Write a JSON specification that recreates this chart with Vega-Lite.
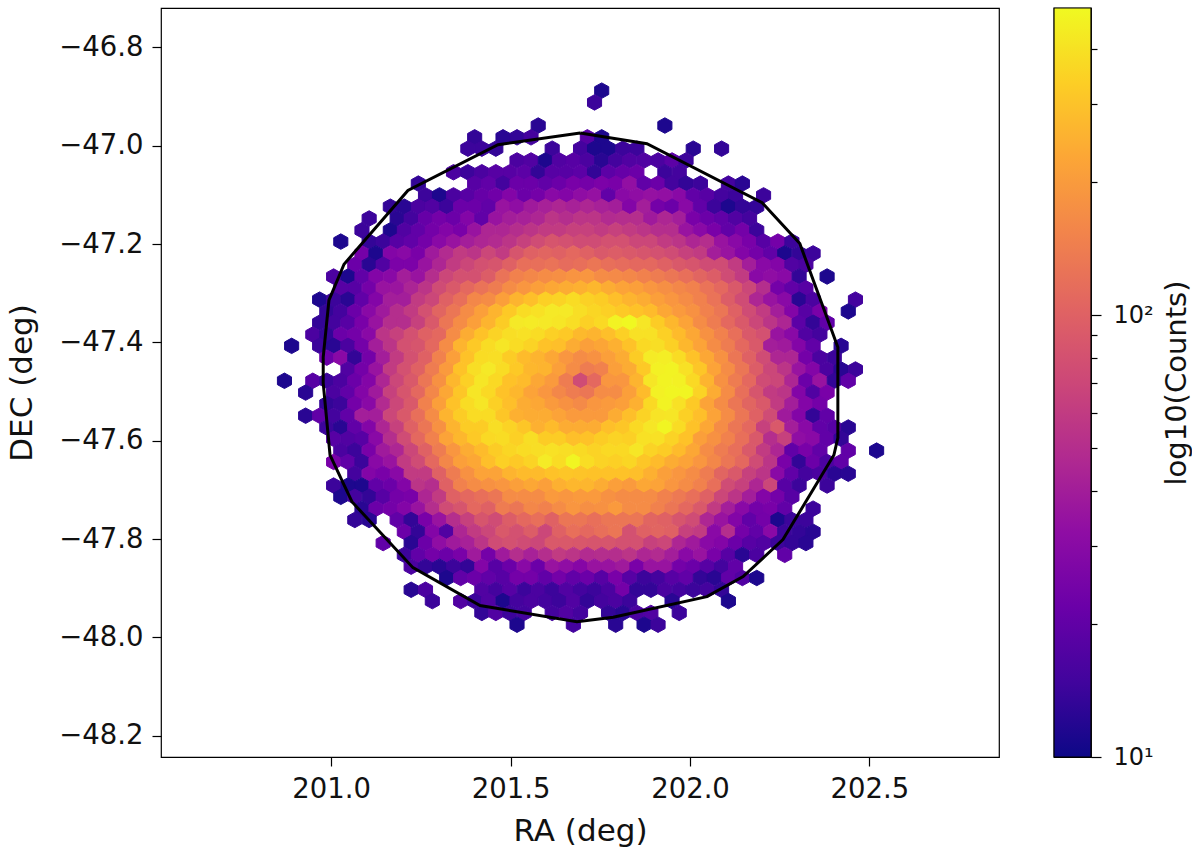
{"$schema":"https://vega.github.io/schema/vega-lite/v6.json","autosize":{"type":"pad"},"padding":{"left":6,"top":6,"right":0,"bottom":0},"background":"white","config":{"view":{"stroke":"black","strokeWidth":1.2},"font":"DejaVu Sans","axis":{"grid":false,"domain":false,"tickColor":"black","labelColor":"#111","titleColor":"#111","titleFontWeight":"normal","tickWidth":1.2}},"spacing":52,"hconcat":[{"width":838,"height":749,"layer":[{"data":{"values":[
{"ra":201.754,"dec":-46.888,"n":11},
{"ra":201.734,"dec":-46.912,"n":14},
{"ra":201.577,"dec":-46.959,"n":12},{"ra":201.930,"dec":-46.959,"n":11},
{"ra":201.400,"dec":-46.983,"n":13},{"ra":201.479,"dec":-46.983,"n":12},{"ra":201.518,"dec":-46.983,"n":13},{"ra":201.557,"dec":-46.983,"n":15},{"ra":201.714,"dec":-46.983,"n":18},{"ra":201.754,"dec":-46.983,"n":11},
{"ra":201.381,"dec":-47.006,"n":14},{"ra":201.420,"dec":-47.006,"n":14},{"ra":201.459,"dec":-47.006,"n":13},{"ra":201.616,"dec":-47.006,"n":14},{"ra":201.695,"dec":-47.006,"n":15},{"ra":201.734,"dec":-47.006,"n":11},{"ra":201.773,"dec":-47.006,"n":11},{"ra":201.813,"dec":-47.006,"n":14},{"ra":201.852,"dec":-47.006,"n":14},{"ra":202.009,"dec":-47.006,"n":12},{"ra":202.088,"dec":-47.006,"n":13},
{"ra":201.518,"dec":-47.030,"n":16},{"ra":201.557,"dec":-47.030,"n":17},{"ra":201.597,"dec":-47.030,"n":11},{"ra":201.636,"dec":-47.030,"n":17},{"ra":201.675,"dec":-47.030,"n":18},{"ra":201.714,"dec":-47.030,"n":16},{"ra":201.754,"dec":-47.030,"n":12},{"ra":201.793,"dec":-47.030,"n":15},{"ra":201.832,"dec":-47.030,"n":17},{"ra":201.872,"dec":-47.030,"n":17},{"ra":201.911,"dec":-47.030,"n":16},{"ra":201.950,"dec":-47.030,"n":19},{"ra":201.989,"dec":-47.030,"n":14},
{"ra":201.341,"dec":-47.054,"n":16},{"ra":201.381,"dec":-47.054,"n":14},{"ra":201.420,"dec":-47.054,"n":16},{"ra":201.459,"dec":-47.054,"n":18},{"ra":201.498,"dec":-47.054,"n":18},{"ra":201.538,"dec":-47.054,"n":19},{"ra":201.577,"dec":-47.054,"n":13},{"ra":201.616,"dec":-47.054,"n":18},{"ra":201.655,"dec":-47.054,"n":18},{"ra":201.695,"dec":-47.054,"n":19},{"ra":201.734,"dec":-47.054,"n":13},{"ra":201.773,"dec":-47.054,"n":19},{"ra":201.813,"dec":-47.054,"n":21},{"ra":201.852,"dec":-47.054,"n":22},{"ra":201.930,"dec":-47.054,"n":14},{"ra":201.970,"dec":-47.054,"n":15},
{"ra":201.243,"dec":-47.077,"n":13},{"ra":201.400,"dec":-47.077,"n":18},{"ra":201.439,"dec":-47.077,"n":20},{"ra":201.479,"dec":-47.077,"n":15},{"ra":201.518,"dec":-47.077,"n":22},{"ra":201.557,"dec":-47.077,"n":22},{"ra":201.597,"dec":-47.077,"n":20},{"ra":201.636,"dec":-47.077,"n":22},{"ra":201.675,"dec":-47.077,"n":25},{"ra":201.714,"dec":-47.077,"n":24},{"ra":201.754,"dec":-47.077,"n":26},{"ra":201.793,"dec":-47.077,"n":25},{"ra":201.832,"dec":-47.077,"n":33},{"ra":201.872,"dec":-47.077,"n":20},{"ra":201.911,"dec":-47.077,"n":22},{"ra":201.950,"dec":-47.077,"n":15},{"ra":201.989,"dec":-47.077,"n":13},{"ra":202.029,"dec":-47.077,"n":14},{"ra":202.107,"dec":-47.077,"n":15},{"ra":202.146,"dec":-47.077,"n":12},
{"ra":201.263,"dec":-47.101,"n":14},{"ra":201.302,"dec":-47.101,"n":11},{"ra":201.341,"dec":-47.101,"n":16},{"ra":201.381,"dec":-47.101,"n":18},{"ra":201.420,"dec":-47.101,"n":21},{"ra":201.459,"dec":-47.101,"n":23},{"ra":201.498,"dec":-47.101,"n":28},{"ra":201.538,"dec":-47.101,"n":22},{"ra":201.577,"dec":-47.101,"n":24},{"ra":201.616,"dec":-47.101,"n":30},{"ra":201.655,"dec":-47.101,"n":28},{"ra":201.695,"dec":-47.101,"n":32},{"ra":201.734,"dec":-47.101,"n":34},{"ra":201.773,"dec":-47.101,"n":20},{"ra":201.813,"dec":-47.101,"n":30},{"ra":201.852,"dec":-47.101,"n":32},{"ra":201.891,"dec":-47.101,"n":34},{"ra":201.930,"dec":-47.101,"n":33},{"ra":201.970,"dec":-47.101,"n":30},{"ra":202.009,"dec":-47.101,"n":20},{"ra":202.048,"dec":-47.101,"n":18},{"ra":202.088,"dec":-47.101,"n":15},{"ra":202.127,"dec":-47.101,"n":14},{"ra":202.205,"dec":-47.101,"n":14},
{"ra":201.165,"dec":-47.124,"n":13},{"ra":201.204,"dec":-47.124,"n":12},{"ra":201.243,"dec":-47.124,"n":16},{"ra":201.282,"dec":-47.124,"n":17},{"ra":201.322,"dec":-47.124,"n":14},{"ra":201.361,"dec":-47.124,"n":22},{"ra":201.400,"dec":-47.124,"n":22},{"ra":201.439,"dec":-47.124,"n":20},{"ra":201.479,"dec":-47.124,"n":35},{"ra":201.518,"dec":-47.124,"n":32},{"ra":201.557,"dec":-47.124,"n":38},{"ra":201.597,"dec":-47.124,"n":42},{"ra":201.636,"dec":-47.124,"n":45},{"ra":201.675,"dec":-47.124,"n":42},{"ra":201.714,"dec":-47.124,"n":45},{"ra":201.754,"dec":-47.124,"n":42},{"ra":201.793,"dec":-47.124,"n":40},{"ra":201.832,"dec":-47.124,"n":28},{"ra":201.872,"dec":-47.124,"n":40},{"ra":201.911,"dec":-47.124,"n":24},{"ra":201.950,"dec":-47.124,"n":22},{"ra":201.989,"dec":-47.124,"n":30},{"ra":202.029,"dec":-47.124,"n":20},{"ra":202.068,"dec":-47.124,"n":14},{"ra":202.107,"dec":-47.124,"n":11},{"ra":202.146,"dec":-47.124,"n":13},{"ra":202.186,"dec":-47.124,"n":13},
{"ra":201.106,"dec":-47.148,"n":14},{"ra":201.184,"dec":-47.148,"n":12},{"ra":201.223,"dec":-47.148,"n":15},{"ra":201.263,"dec":-47.148,"n":21},{"ra":201.302,"dec":-47.148,"n":24},{"ra":201.341,"dec":-47.148,"n":22},{"ra":201.381,"dec":-47.148,"n":28},{"ra":201.420,"dec":-47.148,"n":20},{"ra":201.459,"dec":-47.148,"n":35},{"ra":201.498,"dec":-47.148,"n":40},{"ra":201.538,"dec":-47.148,"n":42},{"ra":201.577,"dec":-47.148,"n":45},{"ra":201.616,"dec":-47.148,"n":55},{"ra":201.655,"dec":-47.148,"n":50},{"ra":201.695,"dec":-47.148,"n":55},{"ra":201.734,"dec":-47.148,"n":55},{"ra":201.773,"dec":-47.148,"n":48},{"ra":201.813,"dec":-47.148,"n":50},{"ra":201.852,"dec":-47.148,"n":50},{"ra":201.891,"dec":-47.148,"n":38},{"ra":201.930,"dec":-47.148,"n":45},{"ra":201.970,"dec":-47.148,"n":40},{"ra":202.009,"dec":-47.148,"n":25},{"ra":202.048,"dec":-47.148,"n":22},{"ra":202.088,"dec":-47.148,"n":20},{"ra":202.127,"dec":-47.148,"n":17},{"ra":202.166,"dec":-47.148,"n":15},
{"ra":201.086,"dec":-47.172,"n":14},{"ra":201.165,"dec":-47.172,"n":11},{"ra":201.204,"dec":-47.172,"n":17},{"ra":201.243,"dec":-47.172,"n":20},{"ra":201.282,"dec":-47.172,"n":24},{"ra":201.322,"dec":-47.172,"n":28},{"ra":201.361,"dec":-47.172,"n":25},{"ra":201.400,"dec":-47.172,"n":35},{"ra":201.439,"dec":-47.172,"n":45},{"ra":201.479,"dec":-47.172,"n":45},{"ra":201.518,"dec":-47.172,"n":50},{"ra":201.557,"dec":-47.172,"n":55},{"ra":201.597,"dec":-47.172,"n":60},{"ra":201.636,"dec":-47.172,"n":60},{"ra":201.675,"dec":-47.172,"n":65},{"ra":201.714,"dec":-47.172,"n":65},{"ra":201.754,"dec":-47.172,"n":60},{"ra":201.793,"dec":-47.172,"n":65},{"ra":201.832,"dec":-47.172,"n":60},{"ra":201.872,"dec":-47.172,"n":55},{"ra":201.911,"dec":-47.172,"n":50},{"ra":201.950,"dec":-47.172,"n":50},{"ra":201.989,"dec":-47.172,"n":35},{"ra":202.029,"dec":-47.172,"n":30},{"ra":202.068,"dec":-47.172,"n":25},{"ra":202.107,"dec":-47.172,"n":20},{"ra":202.146,"dec":-47.172,"n":24},{"ra":202.186,"dec":-47.172,"n":14},
{"ra":201.027,"dec":-47.195,"n":11},{"ra":201.106,"dec":-47.195,"n":13},{"ra":201.145,"dec":-47.195,"n":14},{"ra":201.184,"dec":-47.195,"n":18},{"ra":201.223,"dec":-47.195,"n":20},{"ra":201.263,"dec":-47.195,"n":24},{"ra":201.302,"dec":-47.195,"n":30},{"ra":201.341,"dec":-47.195,"n":35},{"ra":201.381,"dec":-47.195,"n":40},{"ra":201.420,"dec":-47.195,"n":45},{"ra":201.459,"dec":-47.195,"n":48},{"ra":201.498,"dec":-47.195,"n":55},{"ra":201.538,"dec":-47.195,"n":65},{"ra":201.577,"dec":-47.195,"n":75},{"ra":201.616,"dec":-47.195,"n":85},{"ra":201.655,"dec":-47.195,"n":80},{"ra":201.695,"dec":-47.195,"n":75},{"ra":201.734,"dec":-47.195,"n":75},{"ra":201.773,"dec":-47.195,"n":80},{"ra":201.813,"dec":-47.195,"n":80},{"ra":201.852,"dec":-47.195,"n":70},{"ra":201.891,"dec":-47.195,"n":70},{"ra":201.930,"dec":-47.195,"n":60},{"ra":201.970,"dec":-47.195,"n":55},{"ra":202.009,"dec":-47.195,"n":45},{"ra":202.048,"dec":-47.195,"n":50},{"ra":202.088,"dec":-47.195,"n":35},{"ra":202.127,"dec":-47.195,"n":30},{"ra":202.166,"dec":-47.195,"n":25},{"ra":202.205,"dec":-47.195,"n":18},{"ra":202.245,"dec":-47.195,"n":24},{"ra":202.284,"dec":-47.195,"n":14},
{"ra":201.086,"dec":-47.219,"n":24},{"ra":201.125,"dec":-47.219,"n":11},{"ra":201.165,"dec":-47.219,"n":28},{"ra":201.204,"dec":-47.219,"n":30},{"ra":201.243,"dec":-47.219,"n":25},{"ra":201.282,"dec":-47.219,"n":38},{"ra":201.322,"dec":-47.219,"n":48},{"ra":201.361,"dec":-47.219,"n":60},{"ra":201.400,"dec":-47.219,"n":55},{"ra":201.439,"dec":-47.219,"n":70},{"ra":201.479,"dec":-47.219,"n":60},{"ra":201.518,"dec":-47.219,"n":85},{"ra":201.557,"dec":-47.219,"n":100},{"ra":201.597,"dec":-47.219,"n":105},{"ra":201.636,"dec":-47.219,"n":100},{"ra":201.675,"dec":-47.219,"n":110},{"ra":201.714,"dec":-47.219,"n":100},{"ra":201.754,"dec":-47.219,"n":90},{"ra":201.793,"dec":-47.219,"n":95},{"ra":201.832,"dec":-47.219,"n":90},{"ra":201.872,"dec":-47.219,"n":85},{"ra":201.911,"dec":-47.219,"n":80},{"ra":201.950,"dec":-47.219,"n":75},{"ra":201.989,"dec":-47.219,"n":65},{"ra":202.029,"dec":-47.219,"n":60},{"ra":202.068,"dec":-47.219,"n":40},{"ra":202.107,"dec":-47.219,"n":35},{"ra":202.146,"dec":-47.219,"n":28},{"ra":202.186,"dec":-47.219,"n":24},{"ra":202.225,"dec":-47.219,"n":20},{"ra":202.264,"dec":-47.219,"n":11},{"ra":202.304,"dec":-47.219,"n":13},{"ra":202.343,"dec":-47.219,"n":14},
{"ra":201.066,"dec":-47.242,"n":22},{"ra":201.106,"dec":-47.242,"n":12},{"ra":201.145,"dec":-47.242,"n":17},{"ra":201.184,"dec":-47.242,"n":26},{"ra":201.223,"dec":-47.242,"n":26},{"ra":201.263,"dec":-47.242,"n":35},{"ra":201.302,"dec":-47.242,"n":45},{"ra":201.341,"dec":-47.242,"n":60},{"ra":201.381,"dec":-47.242,"n":70},{"ra":201.420,"dec":-47.242,"n":80},{"ra":201.459,"dec":-47.242,"n":85},{"ra":201.498,"dec":-47.242,"n":100},{"ra":201.538,"dec":-47.242,"n":120},{"ra":201.577,"dec":-47.242,"n":120},{"ra":201.616,"dec":-47.242,"n":125},{"ra":201.655,"dec":-47.242,"n":115},{"ra":201.695,"dec":-47.242,"n":120},{"ra":201.734,"dec":-47.242,"n":130},{"ra":201.773,"dec":-47.242,"n":120},{"ra":201.813,"dec":-47.242,"n":115},{"ra":201.852,"dec":-47.242,"n":110},{"ra":201.891,"dec":-47.242,"n":110},{"ra":201.930,"dec":-47.242,"n":100},{"ra":201.970,"dec":-47.242,"n":90},{"ra":202.009,"dec":-47.242,"n":85},{"ra":202.048,"dec":-47.242,"n":75},{"ra":202.088,"dec":-47.242,"n":75},{"ra":202.127,"dec":-47.242,"n":60},{"ra":202.166,"dec":-47.242,"n":40},{"ra":202.205,"dec":-47.242,"n":30},{"ra":202.245,"dec":-47.242,"n":28},{"ra":202.284,"dec":-47.242,"n":17},{"ra":202.323,"dec":-47.242,"n":16},
{"ra":201.007,"dec":-47.266,"n":16},{"ra":201.047,"dec":-47.266,"n":11},{"ra":201.086,"dec":-47.266,"n":20},{"ra":201.125,"dec":-47.266,"n":28},{"ra":201.165,"dec":-47.266,"n":30},{"ra":201.204,"dec":-47.266,"n":40},{"ra":201.243,"dec":-47.266,"n":35},{"ra":201.282,"dec":-47.266,"n":50},{"ra":201.322,"dec":-47.266,"n":70},{"ra":201.361,"dec":-47.266,"n":80},{"ra":201.400,"dec":-47.266,"n":80},{"ra":201.439,"dec":-47.266,"n":95},{"ra":201.479,"dec":-47.266,"n":125},{"ra":201.518,"dec":-47.266,"n":150},{"ra":201.557,"dec":-47.266,"n":160},{"ra":201.597,"dec":-47.266,"n":170},{"ra":201.636,"dec":-47.266,"n":175},{"ra":201.675,"dec":-47.266,"n":185},{"ra":201.714,"dec":-47.266,"n":190},{"ra":201.754,"dec":-47.266,"n":170},{"ra":201.793,"dec":-47.266,"n":165},{"ra":201.832,"dec":-47.266,"n":160},{"ra":201.872,"dec":-47.266,"n":150},{"ra":201.911,"dec":-47.266,"n":140},{"ra":201.950,"dec":-47.266,"n":130},{"ra":201.989,"dec":-47.266,"n":120},{"ra":202.029,"dec":-47.266,"n":105},{"ra":202.068,"dec":-47.266,"n":95},{"ra":202.107,"dec":-47.266,"n":75},{"ra":202.146,"dec":-47.266,"n":60},{"ra":202.186,"dec":-47.266,"n":30},{"ra":202.225,"dec":-47.266,"n":32},{"ra":202.264,"dec":-47.266,"n":30},{"ra":202.304,"dec":-47.266,"n":13},{"ra":202.382,"dec":-47.266,"n":11},
{"ra":201.027,"dec":-47.290,"n":18},{"ra":201.066,"dec":-47.290,"n":18},{"ra":201.106,"dec":-47.290,"n":24},{"ra":201.145,"dec":-47.290,"n":35},{"ra":201.184,"dec":-47.290,"n":36},{"ra":201.223,"dec":-47.290,"n":44},{"ra":201.263,"dec":-47.290,"n":55},{"ra":201.302,"dec":-47.290,"n":75},{"ra":201.341,"dec":-47.290,"n":90},{"ra":201.381,"dec":-47.290,"n":110},{"ra":201.420,"dec":-47.290,"n":125},{"ra":201.459,"dec":-47.290,"n":140},{"ra":201.498,"dec":-47.290,"n":170},{"ra":201.538,"dec":-47.290,"n":190},{"ra":201.577,"dec":-47.290,"n":210},{"ra":201.616,"dec":-47.290,"n":230},{"ra":201.655,"dec":-47.290,"n":240},{"ra":201.695,"dec":-47.290,"n":250},{"ra":201.734,"dec":-47.290,"n":270},{"ra":201.773,"dec":-47.290,"n":240},{"ra":201.813,"dec":-47.290,"n":220},{"ra":201.852,"dec":-47.290,"n":210},{"ra":201.891,"dec":-47.290,"n":190},{"ra":201.930,"dec":-47.290,"n":175},{"ra":201.970,"dec":-47.290,"n":160},{"ra":202.009,"dec":-47.290,"n":150},{"ra":202.048,"dec":-47.290,"n":125},{"ra":202.088,"dec":-47.290,"n":110},{"ra":202.127,"dec":-47.290,"n":90},{"ra":202.166,"dec":-47.290,"n":70},{"ra":202.205,"dec":-47.290,"n":50},{"ra":202.245,"dec":-47.290,"n":24},{"ra":202.284,"dec":-47.290,"n":20},{"ra":202.323,"dec":-47.290,"n":18},
{"ra":200.968,"dec":-47.313,"n":11},{"ra":201.007,"dec":-47.313,"n":14},{"ra":201.047,"dec":-47.313,"n":12},{"ra":201.086,"dec":-47.313,"n":20},{"ra":201.125,"dec":-47.313,"n":28},{"ra":201.165,"dec":-47.313,"n":40},{"ra":201.204,"dec":-47.313,"n":40},{"ra":201.243,"dec":-47.313,"n":60},{"ra":201.282,"dec":-47.313,"n":70},{"ra":201.322,"dec":-47.313,"n":100},{"ra":201.361,"dec":-47.313,"n":120},{"ra":201.400,"dec":-47.313,"n":160},{"ra":201.439,"dec":-47.313,"n":170},{"ra":201.479,"dec":-47.313,"n":210},{"ra":201.518,"dec":-47.313,"n":260},{"ra":201.557,"dec":-47.313,"n":290},{"ra":201.597,"dec":-47.313,"n":340},{"ra":201.636,"dec":-47.313,"n":350},{"ra":201.675,"dec":-47.313,"n":380},{"ra":201.714,"dec":-47.313,"n":345},{"ra":201.754,"dec":-47.313,"n":330},{"ra":201.793,"dec":-47.313,"n":290},{"ra":201.832,"dec":-47.313,"n":260},{"ra":201.872,"dec":-47.313,"n":240},{"ra":201.911,"dec":-47.313,"n":210},{"ra":201.950,"dec":-47.313,"n":190},{"ra":201.989,"dec":-47.313,"n":170},{"ra":202.029,"dec":-47.313,"n":150},{"ra":202.068,"dec":-47.313,"n":125},{"ra":202.107,"dec":-47.313,"n":95},{"ra":202.146,"dec":-47.313,"n":75},{"ra":202.186,"dec":-47.313,"n":45},{"ra":202.225,"dec":-47.313,"n":35},{"ra":202.264,"dec":-47.313,"n":30},{"ra":202.304,"dec":-47.313,"n":12},{"ra":202.343,"dec":-47.313,"n":16},{"ra":202.461,"dec":-47.313,"n":15},
{"ra":200.988,"dec":-47.337,"n":13},{"ra":201.027,"dec":-47.337,"n":15},{"ra":201.066,"dec":-47.337,"n":22},{"ra":201.106,"dec":-47.337,"n":30},{"ra":201.145,"dec":-47.337,"n":38},{"ra":201.184,"dec":-47.337,"n":50},{"ra":201.223,"dec":-47.337,"n":60},{"ra":201.263,"dec":-47.337,"n":80},{"ra":201.302,"dec":-47.337,"n":105},{"ra":201.341,"dec":-47.337,"n":130},{"ra":201.381,"dec":-47.337,"n":170},{"ra":201.420,"dec":-47.337,"n":210},{"ra":201.459,"dec":-47.337,"n":260},{"ra":201.498,"dec":-47.337,"n":320},{"ra":201.538,"dec":-47.337,"n":380},{"ra":201.577,"dec":-47.337,"n":400},{"ra":201.616,"dec":-47.337,"n":430},{"ra":201.655,"dec":-47.337,"n":430},{"ra":201.695,"dec":-47.337,"n":390},{"ra":201.734,"dec":-47.337,"n":360},{"ra":201.773,"dec":-47.337,"n":340},{"ra":201.813,"dec":-47.337,"n":320},{"ra":201.852,"dec":-47.337,"n":300},{"ra":201.891,"dec":-47.337,"n":280},{"ra":201.930,"dec":-47.337,"n":230},{"ra":201.970,"dec":-47.337,"n":200},{"ra":202.009,"dec":-47.337,"n":180},{"ra":202.048,"dec":-47.337,"n":150},{"ra":202.088,"dec":-47.337,"n":130},{"ra":202.127,"dec":-47.337,"n":100},{"ra":202.166,"dec":-47.337,"n":75},{"ra":202.205,"dec":-47.337,"n":60},{"ra":202.245,"dec":-47.337,"n":40},{"ra":202.284,"dec":-47.337,"n":28},{"ra":202.323,"dec":-47.337,"n":18},{"ra":202.362,"dec":-47.337,"n":25},{"ra":202.441,"dec":-47.337,"n":11},
{"ra":200.968,"dec":-47.360,"n":13},{"ra":201.007,"dec":-47.360,"n":15},{"ra":201.047,"dec":-47.360,"n":18},{"ra":201.086,"dec":-47.360,"n":25},{"ra":201.125,"dec":-47.360,"n":35},{"ra":201.165,"dec":-47.360,"n":50},{"ra":201.204,"dec":-47.360,"n":50},{"ra":201.243,"dec":-47.360,"n":65},{"ra":201.282,"dec":-47.360,"n":90},{"ra":201.322,"dec":-47.360,"n":130},{"ra":201.361,"dec":-47.360,"n":170},{"ra":201.400,"dec":-47.360,"n":210},{"ra":201.439,"dec":-47.360,"n":260},{"ra":201.479,"dec":-47.360,"n":330},{"ra":201.518,"dec":-47.360,"n":430},{"ra":201.557,"dec":-47.360,"n":440},{"ra":201.597,"dec":-47.360,"n":430},{"ra":201.636,"dec":-47.360,"n":420},{"ra":201.675,"dec":-47.360,"n":390},{"ra":201.714,"dec":-47.360,"n":340},{"ra":201.754,"dec":-47.360,"n":370},{"ra":201.793,"dec":-47.360,"n":470},{"ra":201.832,"dec":-47.360,"n":490},{"ra":201.872,"dec":-47.360,"n":420},{"ra":201.911,"dec":-47.360,"n":330},{"ra":201.950,"dec":-47.360,"n":270},{"ra":201.989,"dec":-47.360,"n":220},{"ra":202.029,"dec":-47.360,"n":170},{"ra":202.068,"dec":-47.360,"n":140},{"ra":202.107,"dec":-47.360,"n":110},{"ra":202.146,"dec":-47.360,"n":90},{"ra":202.186,"dec":-47.360,"n":70},{"ra":202.225,"dec":-47.360,"n":55},{"ra":202.264,"dec":-47.360,"n":45},{"ra":202.304,"dec":-47.360,"n":19},{"ra":202.343,"dec":-47.360,"n":13},{"ra":202.382,"dec":-47.360,"n":20},
{"ra":200.949,"dec":-47.384,"n":16},{"ra":200.988,"dec":-47.384,"n":13},{"ra":201.027,"dec":-47.384,"n":22},{"ra":201.066,"dec":-47.384,"n":24},{"ra":201.106,"dec":-47.384,"n":30},{"ra":201.145,"dec":-47.384,"n":55},{"ra":201.184,"dec":-47.384,"n":65},{"ra":201.223,"dec":-47.384,"n":80},{"ra":201.263,"dec":-47.384,"n":100},{"ra":201.302,"dec":-47.384,"n":110},{"ra":201.341,"dec":-47.384,"n":170},{"ra":201.381,"dec":-47.384,"n":240},{"ra":201.420,"dec":-47.384,"n":300},{"ra":201.459,"dec":-47.384,"n":350},{"ra":201.498,"dec":-47.384,"n":390},{"ra":201.538,"dec":-47.384,"n":400},{"ra":201.577,"dec":-47.384,"n":380},{"ra":201.616,"dec":-47.384,"n":340},{"ra":201.655,"dec":-47.384,"n":320},{"ra":201.695,"dec":-47.384,"n":275},{"ra":201.734,"dec":-47.384,"n":260},{"ra":201.773,"dec":-47.384,"n":290},{"ra":201.813,"dec":-47.384,"n":340},{"ra":201.852,"dec":-47.384,"n":400},{"ra":201.891,"dec":-47.384,"n":400},{"ra":201.930,"dec":-47.384,"n":340},{"ra":201.970,"dec":-47.384,"n":280},{"ra":202.009,"dec":-47.384,"n":230},{"ra":202.048,"dec":-47.384,"n":180},{"ra":202.088,"dec":-47.384,"n":150},{"ra":202.127,"dec":-47.384,"n":120},{"ra":202.166,"dec":-47.384,"n":90},{"ra":202.205,"dec":-47.384,"n":80},{"ra":202.245,"dec":-47.384,"n":35},{"ra":202.284,"dec":-47.384,"n":30},{"ra":202.323,"dec":-47.384,"n":17},{"ra":202.362,"dec":-47.384,"n":15},
{"ra":200.890,"dec":-47.407,"n":11},{"ra":200.968,"dec":-47.407,"n":14},{"ra":201.007,"dec":-47.407,"n":12},{"ra":201.047,"dec":-47.407,"n":16},{"ra":201.086,"dec":-47.407,"n":24},{"ra":201.125,"dec":-47.407,"n":40},{"ra":201.165,"dec":-47.407,"n":55},{"ra":201.204,"dec":-47.407,"n":80},{"ra":201.243,"dec":-47.407,"n":85},{"ra":201.282,"dec":-47.407,"n":110},{"ra":201.322,"dec":-47.407,"n":170},{"ra":201.361,"dec":-47.407,"n":260},{"ra":201.400,"dec":-47.407,"n":320},{"ra":201.439,"dec":-47.407,"n":380},{"ra":201.479,"dec":-47.407,"n":420},{"ra":201.518,"dec":-47.407,"n":380},{"ra":201.557,"dec":-47.407,"n":350},{"ra":201.597,"dec":-47.407,"n":300},{"ra":201.636,"dec":-47.407,"n":290},{"ra":201.675,"dec":-47.407,"n":240},{"ra":201.714,"dec":-47.407,"n":210},{"ra":201.754,"dec":-47.407,"n":225},{"ra":201.793,"dec":-47.407,"n":250},{"ra":201.832,"dec":-47.407,"n":300},{"ra":201.872,"dec":-47.407,"n":370},{"ra":201.911,"dec":-47.407,"n":390},{"ra":201.950,"dec":-47.407,"n":340},{"ra":201.989,"dec":-47.407,"n":270},{"ra":202.029,"dec":-47.407,"n":220},{"ra":202.068,"dec":-47.407,"n":170},{"ra":202.107,"dec":-47.407,"n":140},{"ra":202.146,"dec":-47.407,"n":110},{"ra":202.186,"dec":-47.407,"n":90},{"ra":202.225,"dec":-47.407,"n":40},{"ra":202.264,"dec":-47.407,"n":38},{"ra":202.304,"dec":-47.407,"n":28},{"ra":202.343,"dec":-47.407,"n":20},{"ra":202.421,"dec":-47.407,"n":12},
{"ra":200.988,"dec":-47.431,"n":22},{"ra":201.027,"dec":-47.431,"n":30},{"ra":201.066,"dec":-47.431,"n":13},{"ra":201.106,"dec":-47.431,"n":24},{"ra":201.145,"dec":-47.431,"n":40},{"ra":201.184,"dec":-47.431,"n":60},{"ra":201.223,"dec":-47.431,"n":80},{"ra":201.263,"dec":-47.431,"n":100},{"ra":201.302,"dec":-47.431,"n":150},{"ra":201.341,"dec":-47.431,"n":210},{"ra":201.381,"dec":-47.431,"n":300},{"ra":201.420,"dec":-47.431,"n":380},{"ra":201.459,"dec":-47.431,"n":390},{"ra":201.498,"dec":-47.431,"n":330},{"ra":201.538,"dec":-47.431,"n":280},{"ra":201.577,"dec":-47.431,"n":260},{"ra":201.616,"dec":-47.431,"n":230},{"ra":201.655,"dec":-47.431,"n":190},{"ra":201.695,"dec":-47.431,"n":170},{"ra":201.734,"dec":-47.431,"n":180},{"ra":201.773,"dec":-47.431,"n":210},{"ra":201.813,"dec":-47.431,"n":240},{"ra":201.852,"dec":-47.431,"n":330},{"ra":201.891,"dec":-47.431,"n":440},{"ra":201.930,"dec":-47.431,"n":450},{"ra":201.970,"dec":-47.431,"n":380},{"ra":202.009,"dec":-47.431,"n":300},{"ra":202.048,"dec":-47.431,"n":230},{"ra":202.088,"dec":-47.431,"n":180},{"ra":202.127,"dec":-47.431,"n":130},{"ra":202.166,"dec":-47.431,"n":100},{"ra":202.205,"dec":-47.431,"n":75},{"ra":202.245,"dec":-47.431,"n":45},{"ra":202.284,"dec":-47.431,"n":45},{"ra":202.323,"dec":-47.431,"n":24},{"ra":202.362,"dec":-47.431,"n":16},{"ra":202.402,"dec":-47.431,"n":14},
{"ra":201.047,"dec":-47.455,"n":17},{"ra":201.086,"dec":-47.455,"n":24},{"ra":201.125,"dec":-47.455,"n":35},{"ra":201.165,"dec":-47.455,"n":60},{"ra":201.204,"dec":-47.455,"n":80},{"ra":201.243,"dec":-47.455,"n":100},{"ra":201.282,"dec":-47.455,"n":140},{"ra":201.322,"dec":-47.455,"n":200},{"ra":201.361,"dec":-47.455,"n":300},{"ra":201.400,"dec":-47.455,"n":390},{"ra":201.439,"dec":-47.455,"n":430},{"ra":201.479,"dec":-47.455,"n":380},{"ra":201.518,"dec":-47.455,"n":320},{"ra":201.557,"dec":-47.455,"n":270},{"ra":201.597,"dec":-47.455,"n":260},{"ra":201.636,"dec":-47.455,"n":210},{"ra":201.675,"dec":-47.455,"n":170},{"ra":201.714,"dec":-47.455,"n":140},{"ra":201.754,"dec":-47.455,"n":150},{"ra":201.793,"dec":-47.455,"n":210},{"ra":201.832,"dec":-47.455,"n":240},{"ra":201.872,"dec":-47.455,"n":320},{"ra":201.911,"dec":-47.455,"n":460},{"ra":201.950,"dec":-47.455,"n":470},{"ra":201.989,"dec":-47.455,"n":400},{"ra":202.029,"dec":-47.455,"n":310},{"ra":202.068,"dec":-47.455,"n":220},{"ra":202.107,"dec":-47.455,"n":170},{"ra":202.146,"dec":-47.455,"n":130},{"ra":202.186,"dec":-47.455,"n":95},{"ra":202.225,"dec":-47.455,"n":70},{"ra":202.264,"dec":-47.455,"n":55},{"ra":202.304,"dec":-47.455,"n":35},{"ra":202.343,"dec":-47.455,"n":28},{"ra":202.382,"dec":-47.455,"n":16},{"ra":202.421,"dec":-47.455,"n":12},{"ra":202.461,"dec":-47.455,"n":14},
{"ra":200.870,"dec":-47.478,"n":11},{"ra":200.949,"dec":-47.478,"n":18},{"ra":200.988,"dec":-47.478,"n":14},{"ra":201.027,"dec":-47.478,"n":16},{"ra":201.066,"dec":-47.478,"n":22},{"ra":201.106,"dec":-47.478,"n":28},{"ra":201.145,"dec":-47.478,"n":45},{"ra":201.184,"dec":-47.478,"n":70},{"ra":201.223,"dec":-47.478,"n":90},{"ra":201.263,"dec":-47.478,"n":130},{"ra":201.302,"dec":-47.478,"n":180},{"ra":201.341,"dec":-47.478,"n":270},{"ra":201.381,"dec":-47.478,"n":340},{"ra":201.420,"dec":-47.478,"n":420},{"ra":201.459,"dec":-47.478,"n":370},{"ra":201.498,"dec":-47.478,"n":300},{"ra":201.538,"dec":-47.478,"n":280},{"ra":201.577,"dec":-47.478,"n":230},{"ra":201.616,"dec":-47.478,"n":200},{"ra":201.655,"dec":-47.478,"n":140},{"ra":201.695,"dec":-47.478,"n":75},{"ra":201.734,"dec":-47.478,"n":110},{"ra":201.773,"dec":-47.478,"n":190},{"ra":201.813,"dec":-47.478,"n":190},{"ra":201.852,"dec":-47.478,"n":260},{"ra":201.891,"dec":-47.478,"n":420},{"ra":201.930,"dec":-47.478,"n":470},{"ra":201.970,"dec":-47.478,"n":460},{"ra":202.009,"dec":-47.478,"n":370},{"ra":202.048,"dec":-47.478,"n":260},{"ra":202.088,"dec":-47.478,"n":180},{"ra":202.127,"dec":-47.478,"n":140},{"ra":202.166,"dec":-47.478,"n":110},{"ra":202.205,"dec":-47.478,"n":75},{"ra":202.245,"dec":-47.478,"n":70},{"ra":202.284,"dec":-47.478,"n":45},{"ra":202.323,"dec":-47.478,"n":22},{"ra":202.362,"dec":-47.478,"n":35},{"ra":202.402,"dec":-47.478,"n":13},{"ra":202.441,"dec":-47.478,"n":20},
{"ra":200.929,"dec":-47.502,"n":12},{"ra":201.007,"dec":-47.502,"n":16},{"ra":201.047,"dec":-47.502,"n":20},{"ra":201.086,"dec":-47.502,"n":28},{"ra":201.125,"dec":-47.502,"n":38},{"ra":201.165,"dec":-47.502,"n":65},{"ra":201.204,"dec":-47.502,"n":85},{"ra":201.243,"dec":-47.502,"n":110},{"ra":201.282,"dec":-47.502,"n":160},{"ra":201.322,"dec":-47.502,"n":230},{"ra":201.361,"dec":-47.502,"n":310},{"ra":201.400,"dec":-47.502,"n":420},{"ra":201.439,"dec":-47.502,"n":370},{"ra":201.479,"dec":-47.502,"n":300},{"ra":201.518,"dec":-47.502,"n":270},{"ra":201.557,"dec":-47.502,"n":220},{"ra":201.597,"dec":-47.502,"n":190},{"ra":201.636,"dec":-47.502,"n":160},{"ra":201.675,"dec":-47.502,"n":140},{"ra":201.714,"dec":-47.502,"n":130},{"ra":201.754,"dec":-47.502,"n":170},{"ra":201.793,"dec":-47.502,"n":170},{"ra":201.832,"dec":-47.502,"n":210},{"ra":201.872,"dec":-47.502,"n":280},{"ra":201.911,"dec":-47.502,"n":460},{"ra":201.950,"dec":-47.502,"n":480},{"ra":201.989,"dec":-47.502,"n":480},{"ra":202.029,"dec":-47.502,"n":350},{"ra":202.068,"dec":-47.502,"n":240},{"ra":202.107,"dec":-47.502,"n":170},{"ra":202.146,"dec":-47.502,"n":120},{"ra":202.186,"dec":-47.502,"n":85},{"ra":202.225,"dec":-47.502,"n":60},{"ra":202.264,"dec":-47.502,"n":55},{"ra":202.304,"dec":-47.502,"n":28},{"ra":202.343,"dec":-47.502,"n":17},{"ra":202.382,"dec":-47.502,"n":25},
{"ra":200.988,"dec":-47.525,"n":13},{"ra":201.027,"dec":-47.525,"n":14},{"ra":201.066,"dec":-47.525,"n":24},{"ra":201.106,"dec":-47.525,"n":30},{"ra":201.145,"dec":-47.525,"n":48},{"ra":201.184,"dec":-47.525,"n":70},{"ra":201.223,"dec":-47.525,"n":90},{"ra":201.263,"dec":-47.525,"n":150},{"ra":201.302,"dec":-47.525,"n":210},{"ra":201.341,"dec":-47.525,"n":300},{"ra":201.381,"dec":-47.525,"n":380},{"ra":201.420,"dec":-47.525,"n":420},{"ra":201.459,"dec":-47.525,"n":340},{"ra":201.498,"dec":-47.525,"n":290},{"ra":201.538,"dec":-47.525,"n":240},{"ra":201.577,"dec":-47.525,"n":230},{"ra":201.616,"dec":-47.525,"n":200},{"ra":201.655,"dec":-47.525,"n":180},{"ra":201.695,"dec":-47.525,"n":165},{"ra":201.734,"dec":-47.525,"n":190},{"ra":201.773,"dec":-47.525,"n":200},{"ra":201.813,"dec":-47.525,"n":210},{"ra":201.852,"dec":-47.525,"n":250},{"ra":201.891,"dec":-47.525,"n":370},{"ra":201.930,"dec":-47.525,"n":470},{"ra":201.970,"dec":-47.525,"n":400},{"ra":202.009,"dec":-47.525,"n":320},{"ra":202.048,"dec":-47.525,"n":220},{"ra":202.088,"dec":-47.525,"n":170},{"ra":202.127,"dec":-47.525,"n":130},{"ra":202.166,"dec":-47.525,"n":105},{"ra":202.205,"dec":-47.525,"n":90},{"ra":202.245,"dec":-47.525,"n":60},{"ra":202.284,"dec":-47.525,"n":40},{"ra":202.323,"dec":-47.525,"n":28},{"ra":202.362,"dec":-47.525,"n":24},
{"ra":200.929,"dec":-47.549,"n":12},{"ra":200.968,"dec":-47.549,"n":20},{"ra":201.007,"dec":-47.549,"n":15},{"ra":201.047,"dec":-47.549,"n":20},{"ra":201.086,"dec":-47.549,"n":40},{"ra":201.125,"dec":-47.549,"n":40},{"ra":201.165,"dec":-47.549,"n":70},{"ra":201.204,"dec":-47.549,"n":90},{"ra":201.243,"dec":-47.549,"n":120},{"ra":201.282,"dec":-47.549,"n":170},{"ra":201.322,"dec":-47.549,"n":260},{"ra":201.361,"dec":-47.549,"n":330},{"ra":201.400,"dec":-47.549,"n":380},{"ra":201.439,"dec":-47.549,"n":380},{"ra":201.479,"dec":-47.549,"n":310},{"ra":201.518,"dec":-47.549,"n":250},{"ra":201.557,"dec":-47.549,"n":240},{"ra":201.597,"dec":-47.549,"n":240},{"ra":201.636,"dec":-47.549,"n":220},{"ra":201.675,"dec":-47.549,"n":200},{"ra":201.714,"dec":-47.549,"n":200},{"ra":201.754,"dec":-47.549,"n":200},{"ra":201.793,"dec":-47.549,"n":240},{"ra":201.832,"dec":-47.549,"n":290},{"ra":201.872,"dec":-47.549,"n":350},{"ra":201.911,"dec":-47.549,"n":410},{"ra":201.950,"dec":-47.549,"n":420},{"ra":201.989,"dec":-47.549,"n":340},{"ra":202.029,"dec":-47.549,"n":290},{"ra":202.068,"dec":-47.549,"n":220},{"ra":202.107,"dec":-47.549,"n":170},{"ra":202.146,"dec":-47.549,"n":130},{"ra":202.186,"dec":-47.549,"n":100},{"ra":202.225,"dec":-47.549,"n":75},{"ra":202.264,"dec":-47.549,"n":38},{"ra":202.304,"dec":-47.549,"n":28},{"ra":202.343,"dec":-47.549,"n":13},{"ra":202.382,"dec":-47.549,"n":20},
{"ra":200.988,"dec":-47.573,"n":14},{"ra":201.027,"dec":-47.573,"n":12},{"ra":201.066,"dec":-47.573,"n":20},{"ra":201.106,"dec":-47.573,"n":28},{"ra":201.145,"dec":-47.573,"n":45},{"ra":201.184,"dec":-47.573,"n":65},{"ra":201.223,"dec":-47.573,"n":100},{"ra":201.263,"dec":-47.573,"n":130},{"ra":201.302,"dec":-47.573,"n":180},{"ra":201.341,"dec":-47.573,"n":260},{"ra":201.381,"dec":-47.573,"n":330},{"ra":201.420,"dec":-47.573,"n":330},{"ra":201.459,"dec":-47.573,"n":390},{"ra":201.498,"dec":-47.573,"n":350},{"ra":201.538,"dec":-47.573,"n":310},{"ra":201.577,"dec":-47.573,"n":250},{"ra":201.616,"dec":-47.573,"n":280},{"ra":201.655,"dec":-47.573,"n":240},{"ra":201.695,"dec":-47.573,"n":240},{"ra":201.734,"dec":-47.573,"n":240},{"ra":201.773,"dec":-47.573,"n":290},{"ra":201.813,"dec":-47.573,"n":310},{"ra":201.852,"dec":-47.573,"n":370},{"ra":201.891,"dec":-47.573,"n":420},{"ra":201.930,"dec":-47.573,"n":480},{"ra":201.970,"dec":-47.573,"n":380},{"ra":202.009,"dec":-47.573,"n":300},{"ra":202.048,"dec":-47.573,"n":230},{"ra":202.088,"dec":-47.573,"n":170},{"ra":202.127,"dec":-47.573,"n":130},{"ra":202.166,"dec":-47.573,"n":110},{"ra":202.205,"dec":-47.573,"n":65},{"ra":202.245,"dec":-47.573,"n":90},{"ra":202.284,"dec":-47.573,"n":40},{"ra":202.323,"dec":-47.573,"n":30},{"ra":202.362,"dec":-47.573,"n":20},{"ra":202.402,"dec":-47.573,"n":18},{"ra":202.441,"dec":-47.573,"n":12},
{"ra":201.007,"dec":-47.596,"n":18},{"ra":201.047,"dec":-47.596,"n":17},{"ra":201.086,"dec":-47.596,"n":18},{"ra":201.125,"dec":-47.596,"n":30},{"ra":201.165,"dec":-47.596,"n":50},{"ra":201.204,"dec":-47.596,"n":75},{"ra":201.243,"dec":-47.596,"n":110},{"ra":201.282,"dec":-47.596,"n":150},{"ra":201.322,"dec":-47.596,"n":220},{"ra":201.361,"dec":-47.596,"n":270},{"ra":201.400,"dec":-47.596,"n":320},{"ra":201.439,"dec":-47.596,"n":370},{"ra":201.479,"dec":-47.596,"n":380},{"ra":201.518,"dec":-47.596,"n":340},{"ra":201.557,"dec":-47.596,"n":390},{"ra":201.597,"dec":-47.596,"n":330},{"ra":201.636,"dec":-47.596,"n":330},{"ra":201.675,"dec":-47.596,"n":290},{"ra":201.714,"dec":-47.596,"n":300},{"ra":201.754,"dec":-47.596,"n":330},{"ra":201.793,"dec":-47.596,"n":350},{"ra":201.832,"dec":-47.596,"n":340},{"ra":201.872,"dec":-47.596,"n":400},{"ra":201.911,"dec":-47.596,"n":400},{"ra":201.950,"dec":-47.596,"n":350},{"ra":201.989,"dec":-47.596,"n":300},{"ra":202.029,"dec":-47.596,"n":210},{"ra":202.068,"dec":-47.596,"n":180},{"ra":202.107,"dec":-47.596,"n":150},{"ra":202.146,"dec":-47.596,"n":120},{"ra":202.186,"dec":-47.596,"n":90},{"ra":202.225,"dec":-47.596,"n":50},{"ra":202.264,"dec":-47.596,"n":65},{"ra":202.304,"dec":-47.596,"n":32},{"ra":202.343,"dec":-47.596,"n":30},{"ra":202.382,"dec":-47.596,"n":20},{"ra":202.421,"dec":-47.596,"n":13},
{"ra":201.027,"dec":-47.620,"n":16},{"ra":201.066,"dec":-47.620,"n":14},{"ra":201.106,"dec":-47.620,"n":25},{"ra":201.145,"dec":-47.620,"n":38},{"ra":201.184,"dec":-47.620,"n":45},{"ra":201.223,"dec":-47.620,"n":70},{"ra":201.263,"dec":-47.620,"n":100},{"ra":201.302,"dec":-47.620,"n":140},{"ra":201.341,"dec":-47.620,"n":190},{"ra":201.381,"dec":-47.620,"n":240},{"ra":201.420,"dec":-47.620,"n":280},{"ra":201.459,"dec":-47.620,"n":330},{"ra":201.498,"dec":-47.620,"n":360},{"ra":201.538,"dec":-47.620,"n":380},{"ra":201.577,"dec":-47.620,"n":390},{"ra":201.616,"dec":-47.620,"n":400},{"ra":201.655,"dec":-47.620,"n":390},{"ra":201.695,"dec":-47.620,"n":375},{"ra":201.734,"dec":-47.620,"n":350},{"ra":201.773,"dec":-47.620,"n":370},{"ra":201.813,"dec":-47.620,"n":370},{"ra":201.852,"dec":-47.620,"n":420},{"ra":201.891,"dec":-47.620,"n":350},{"ra":201.930,"dec":-47.620,"n":330},{"ra":201.970,"dec":-47.620,"n":280},{"ra":202.009,"dec":-47.620,"n":230},{"ra":202.048,"dec":-47.620,"n":170},{"ra":202.088,"dec":-47.620,"n":140},{"ra":202.127,"dec":-47.620,"n":120},{"ra":202.166,"dec":-47.620,"n":90},{"ra":202.205,"dec":-47.620,"n":60},{"ra":202.245,"dec":-47.620,"n":45},{"ra":202.284,"dec":-47.620,"n":20},{"ra":202.323,"dec":-47.620,"n":25},{"ra":202.362,"dec":-47.620,"n":20},{"ra":202.441,"dec":-47.620,"n":20},{"ra":202.520,"dec":-47.620,"n":11},
{"ra":201.007,"dec":-47.643,"n":25},{"ra":201.047,"dec":-47.643,"n":20},{"ra":201.086,"dec":-47.643,"n":14},{"ra":201.125,"dec":-47.643,"n":30},{"ra":201.165,"dec":-47.643,"n":35},{"ra":201.204,"dec":-47.643,"n":60},{"ra":201.243,"dec":-47.643,"n":75},{"ra":201.282,"dec":-47.643,"n":110},{"ra":201.322,"dec":-47.643,"n":160},{"ra":201.361,"dec":-47.643,"n":210},{"ra":201.400,"dec":-47.643,"n":230},{"ra":201.439,"dec":-47.643,"n":290},{"ra":201.479,"dec":-47.643,"n":340},{"ra":201.518,"dec":-47.643,"n":320},{"ra":201.557,"dec":-47.643,"n":350},{"ra":201.597,"dec":-47.643,"n":440},{"ra":201.636,"dec":-47.643,"n":380},{"ra":201.675,"dec":-47.643,"n":480},{"ra":201.714,"dec":-47.643,"n":385},{"ra":201.754,"dec":-47.643,"n":350},{"ra":201.793,"dec":-47.643,"n":340},{"ra":201.832,"dec":-47.643,"n":360},{"ra":201.872,"dec":-47.643,"n":310},{"ra":201.911,"dec":-47.643,"n":280},{"ra":201.950,"dec":-47.643,"n":240},{"ra":201.989,"dec":-47.643,"n":220},{"ra":202.029,"dec":-47.643,"n":190},{"ra":202.068,"dec":-47.643,"n":160},{"ra":202.107,"dec":-47.643,"n":130},{"ra":202.146,"dec":-47.643,"n":110},{"ra":202.186,"dec":-47.643,"n":75},{"ra":202.225,"dec":-47.643,"n":55},{"ra":202.264,"dec":-47.643,"n":25},{"ra":202.304,"dec":-47.643,"n":13},{"ra":202.343,"dec":-47.643,"n":22},{"ra":202.382,"dec":-47.643,"n":16},{"ra":202.421,"dec":-47.643,"n":20},
{"ra":201.066,"dec":-47.667,"n":15},{"ra":201.106,"dec":-47.667,"n":28},{"ra":201.145,"dec":-47.667,"n":25},{"ra":201.184,"dec":-47.667,"n":30},{"ra":201.223,"dec":-47.667,"n":60},{"ra":201.263,"dec":-47.667,"n":60},{"ra":201.302,"dec":-47.667,"n":100},{"ra":201.341,"dec":-47.667,"n":140},{"ra":201.381,"dec":-47.667,"n":180},{"ra":201.420,"dec":-47.667,"n":220},{"ra":201.459,"dec":-47.667,"n":220},{"ra":201.498,"dec":-47.667,"n":260},{"ra":201.538,"dec":-47.667,"n":280},{"ra":201.577,"dec":-47.667,"n":280},{"ra":201.616,"dec":-47.667,"n":300},{"ra":201.655,"dec":-47.667,"n":310},{"ra":201.695,"dec":-47.667,"n":305},{"ra":201.734,"dec":-47.667,"n":300},{"ra":201.773,"dec":-47.667,"n":300},{"ra":201.813,"dec":-47.667,"n":300},{"ra":201.852,"dec":-47.667,"n":290},{"ra":201.891,"dec":-47.667,"n":250},{"ra":201.930,"dec":-47.667,"n":210},{"ra":201.970,"dec":-47.667,"n":190},{"ra":202.009,"dec":-47.667,"n":170},{"ra":202.048,"dec":-47.667,"n":140},{"ra":202.088,"dec":-47.667,"n":105},{"ra":202.127,"dec":-47.667,"n":90},{"ra":202.166,"dec":-47.667,"n":65},{"ra":202.205,"dec":-47.667,"n":55},{"ra":202.245,"dec":-47.667,"n":30},{"ra":202.284,"dec":-47.667,"n":20},{"ra":202.323,"dec":-47.667,"n":15},{"ra":202.362,"dec":-47.667,"n":16},{"ra":202.402,"dec":-47.667,"n":12},{"ra":202.441,"dec":-47.667,"n":12},
{"ra":201.007,"dec":-47.691,"n":14},{"ra":201.047,"dec":-47.691,"n":11},{"ra":201.086,"dec":-47.691,"n":11},{"ra":201.125,"dec":-47.691,"n":20},{"ra":201.165,"dec":-47.691,"n":22},{"ra":201.204,"dec":-47.691,"n":28},{"ra":201.243,"dec":-47.691,"n":55},{"ra":201.282,"dec":-47.691,"n":50},{"ra":201.322,"dec":-47.691,"n":100},{"ra":201.361,"dec":-47.691,"n":150},{"ra":201.400,"dec":-47.691,"n":170},{"ra":201.439,"dec":-47.691,"n":180},{"ra":201.479,"dec":-47.691,"n":190},{"ra":201.518,"dec":-47.691,"n":210},{"ra":201.557,"dec":-47.691,"n":230},{"ra":201.597,"dec":-47.691,"n":210},{"ra":201.636,"dec":-47.691,"n":250},{"ra":201.675,"dec":-47.691,"n":270},{"ra":201.714,"dec":-47.691,"n":265},{"ra":201.754,"dec":-47.691,"n":240},{"ra":201.793,"dec":-47.691,"n":210},{"ra":201.832,"dec":-47.691,"n":200},{"ra":201.872,"dec":-47.691,"n":230},{"ra":201.911,"dec":-47.691,"n":220},{"ra":201.950,"dec":-47.691,"n":190},{"ra":201.989,"dec":-47.691,"n":170},{"ra":202.029,"dec":-47.691,"n":150},{"ra":202.068,"dec":-47.691,"n":120},{"ra":202.107,"dec":-47.691,"n":75},{"ra":202.146,"dec":-47.691,"n":65},{"ra":202.186,"dec":-47.691,"n":45},{"ra":202.225,"dec":-47.691,"n":70},{"ra":202.264,"dec":-47.691,"n":18},{"ra":202.304,"dec":-47.691,"n":14},{"ra":202.382,"dec":-47.691,"n":14},
{"ra":201.027,"dec":-47.714,"n":11},{"ra":201.066,"dec":-47.714,"n":15},{"ra":201.106,"dec":-47.714,"n":13},{"ra":201.145,"dec":-47.714,"n":18},{"ra":201.184,"dec":-47.714,"n":24},{"ra":201.223,"dec":-47.714,"n":25},{"ra":201.263,"dec":-47.714,"n":45},{"ra":201.302,"dec":-47.714,"n":60},{"ra":201.341,"dec":-47.714,"n":100},{"ra":201.381,"dec":-47.714,"n":110},{"ra":201.420,"dec":-47.714,"n":120},{"ra":201.459,"dec":-47.714,"n":130},{"ra":201.498,"dec":-47.714,"n":170},{"ra":201.538,"dec":-47.714,"n":170},{"ra":201.577,"dec":-47.714,"n":170},{"ra":201.616,"dec":-47.714,"n":200},{"ra":201.655,"dec":-47.714,"n":190},{"ra":201.695,"dec":-47.714,"n":200},{"ra":201.734,"dec":-47.714,"n":200},{"ra":201.773,"dec":-47.714,"n":180},{"ra":201.813,"dec":-47.714,"n":170},{"ra":201.852,"dec":-47.714,"n":170},{"ra":201.891,"dec":-47.714,"n":170},{"ra":201.930,"dec":-47.714,"n":150},{"ra":201.970,"dec":-47.714,"n":135},{"ra":202.009,"dec":-47.714,"n":120},{"ra":202.048,"dec":-47.714,"n":100},{"ra":202.088,"dec":-47.714,"n":70},{"ra":202.127,"dec":-47.714,"n":55},{"ra":202.166,"dec":-47.714,"n":40},{"ra":202.205,"dec":-47.714,"n":28},{"ra":202.245,"dec":-47.714,"n":24},{"ra":202.284,"dec":-47.714,"n":18},
{"ra":201.086,"dec":-47.738,"n":12},{"ra":201.125,"dec":-47.738,"n":22},{"ra":201.165,"dec":-47.738,"n":24},{"ra":201.204,"dec":-47.738,"n":28},{"ra":201.243,"dec":-47.738,"n":35},{"ra":201.282,"dec":-47.738,"n":50},{"ra":201.322,"dec":-47.738,"n":75},{"ra":201.361,"dec":-47.738,"n":85},{"ra":201.400,"dec":-47.738,"n":110},{"ra":201.439,"dec":-47.738,"n":100},{"ra":201.479,"dec":-47.738,"n":140},{"ra":201.518,"dec":-47.738,"n":130},{"ra":201.557,"dec":-47.738,"n":160},{"ra":201.597,"dec":-47.738,"n":150},{"ra":201.636,"dec":-47.738,"n":170},{"ra":201.675,"dec":-47.738,"n":190},{"ra":201.714,"dec":-47.738,"n":175},{"ra":201.754,"dec":-47.738,"n":180},{"ra":201.793,"dec":-47.738,"n":200},{"ra":201.832,"dec":-47.738,"n":170},{"ra":201.872,"dec":-47.738,"n":170},{"ra":201.911,"dec":-47.738,"n":150},{"ra":201.950,"dec":-47.738,"n":130},{"ra":201.989,"dec":-47.738,"n":110},{"ra":202.029,"dec":-47.738,"n":90},{"ra":202.068,"dec":-47.738,"n":60},{"ra":202.107,"dec":-47.738,"n":40},{"ra":202.146,"dec":-47.738,"n":30},{"ra":202.186,"dec":-47.738,"n":24},{"ra":202.225,"dec":-47.738,"n":25},{"ra":202.264,"dec":-47.738,"n":20},{"ra":202.343,"dec":-47.738,"n":14},
{"ra":201.066,"dec":-47.761,"n":13},{"ra":201.106,"dec":-47.761,"n":12},{"ra":201.184,"dec":-47.761,"n":20},{"ra":201.223,"dec":-47.761,"n":13},{"ra":201.263,"dec":-47.761,"n":25},{"ra":201.302,"dec":-47.761,"n":35},{"ra":201.341,"dec":-47.761,"n":50},{"ra":201.381,"dec":-47.761,"n":65},{"ra":201.420,"dec":-47.761,"n":85},{"ra":201.459,"dec":-47.761,"n":75},{"ra":201.498,"dec":-47.761,"n":95},{"ra":201.538,"dec":-47.761,"n":110},{"ra":201.577,"dec":-47.761,"n":120},{"ra":201.616,"dec":-47.761,"n":100},{"ra":201.655,"dec":-47.761,"n":130},{"ra":201.695,"dec":-47.761,"n":130},{"ra":201.734,"dec":-47.761,"n":120},{"ra":201.773,"dec":-47.761,"n":130},{"ra":201.813,"dec":-47.761,"n":130},{"ra":201.852,"dec":-47.761,"n":130},{"ra":201.891,"dec":-47.761,"n":105},{"ra":201.930,"dec":-47.761,"n":100},{"ra":201.970,"dec":-47.761,"n":85},{"ra":202.009,"dec":-47.761,"n":75},{"ra":202.048,"dec":-47.761,"n":45},{"ra":202.088,"dec":-47.761,"n":35},{"ra":202.127,"dec":-47.761,"n":28},{"ra":202.166,"dec":-47.761,"n":20},{"ra":202.205,"dec":-47.761,"n":24},{"ra":202.245,"dec":-47.761,"n":11},{"ra":202.284,"dec":-47.761,"n":14},{"ra":202.323,"dec":-47.761,"n":14},
{"ra":201.204,"dec":-47.785,"n":22},{"ra":201.243,"dec":-47.785,"n":13},{"ra":201.282,"dec":-47.785,"n":28},{"ra":201.322,"dec":-47.785,"n":17},{"ra":201.361,"dec":-47.785,"n":45},{"ra":201.400,"dec":-47.785,"n":60},{"ra":201.439,"dec":-47.785,"n":70},{"ra":201.479,"dec":-47.785,"n":90},{"ra":201.518,"dec":-47.785,"n":80},{"ra":201.557,"dec":-47.785,"n":95},{"ra":201.597,"dec":-47.785,"n":70},{"ra":201.636,"dec":-47.785,"n":100},{"ra":201.675,"dec":-47.785,"n":120},{"ra":201.714,"dec":-47.785,"n":110},{"ra":201.754,"dec":-47.785,"n":120},{"ra":201.793,"dec":-47.785,"n":130},{"ra":201.832,"dec":-47.785,"n":80},{"ra":201.872,"dec":-47.785,"n":100},{"ra":201.911,"dec":-47.785,"n":105},{"ra":201.950,"dec":-47.785,"n":100},{"ra":201.989,"dec":-47.785,"n":65},{"ra":202.029,"dec":-47.785,"n":60},{"ra":202.068,"dec":-47.785,"n":30},{"ra":202.107,"dec":-47.785,"n":50},{"ra":202.146,"dec":-47.785,"n":24},{"ra":202.186,"dec":-47.785,"n":20},{"ra":202.225,"dec":-47.785,"n":30},{"ra":202.264,"dec":-47.785,"n":14},{"ra":202.304,"dec":-47.785,"n":13},{"ra":202.343,"dec":-47.785,"n":12},
{"ra":201.145,"dec":-47.808,"n":20},{"ra":201.223,"dec":-47.808,"n":12},{"ra":201.263,"dec":-47.808,"n":22},{"ra":201.302,"dec":-47.808,"n":32},{"ra":201.341,"dec":-47.808,"n":38},{"ra":201.381,"dec":-47.808,"n":42},{"ra":201.420,"dec":-47.808,"n":55},{"ra":201.459,"dec":-47.808,"n":75},{"ra":201.498,"dec":-47.808,"n":80},{"ra":201.538,"dec":-47.808,"n":75},{"ra":201.577,"dec":-47.808,"n":70},{"ra":201.616,"dec":-47.808,"n":90},{"ra":201.655,"dec":-47.808,"n":90},{"ra":201.695,"dec":-47.808,"n":88},{"ra":201.734,"dec":-47.808,"n":85},{"ra":201.773,"dec":-47.808,"n":85},{"ra":201.813,"dec":-47.808,"n":80},{"ra":201.852,"dec":-47.808,"n":80},{"ra":201.891,"dec":-47.808,"n":65},{"ra":201.930,"dec":-47.808,"n":70},{"ra":201.970,"dec":-47.808,"n":45},{"ra":202.009,"dec":-47.808,"n":38},{"ra":202.048,"dec":-47.808,"n":30},{"ra":202.088,"dec":-47.808,"n":28},{"ra":202.127,"dec":-47.808,"n":22},{"ra":202.166,"dec":-47.808,"n":18},{"ra":202.205,"dec":-47.808,"n":17},{"ra":202.245,"dec":-47.808,"n":14},{"ra":202.284,"dec":-47.808,"n":13},{"ra":202.323,"dec":-47.808,"n":12},
{"ra":201.204,"dec":-47.832,"n":14},{"ra":201.243,"dec":-47.832,"n":20},{"ra":201.282,"dec":-47.832,"n":24},{"ra":201.322,"dec":-47.832,"n":22},{"ra":201.361,"dec":-47.832,"n":25},{"ra":201.400,"dec":-47.832,"n":38},{"ra":201.439,"dec":-47.832,"n":24},{"ra":201.479,"dec":-47.832,"n":38},{"ra":201.518,"dec":-47.832,"n":50},{"ra":201.557,"dec":-47.832,"n":42},{"ra":201.597,"dec":-47.832,"n":50},{"ra":201.636,"dec":-47.832,"n":60},{"ra":201.675,"dec":-47.832,"n":55},{"ra":201.714,"dec":-47.832,"n":48},{"ra":201.754,"dec":-47.832,"n":50},{"ra":201.793,"dec":-47.832,"n":50},{"ra":201.832,"dec":-47.832,"n":55},{"ra":201.872,"dec":-47.832,"n":45},{"ra":201.911,"dec":-47.832,"n":48},{"ra":201.950,"dec":-47.832,"n":40},{"ra":201.989,"dec":-47.832,"n":30},{"ra":202.029,"dec":-47.832,"n":35},{"ra":202.068,"dec":-47.832,"n":25},{"ra":202.107,"dec":-47.832,"n":18},{"ra":202.146,"dec":-47.832,"n":12},{"ra":202.186,"dec":-47.832,"n":16},{"ra":202.264,"dec":-47.832,"n":20},
{"ra":201.223,"dec":-47.856,"n":16},{"ra":201.263,"dec":-47.856,"n":13},{"ra":201.302,"dec":-47.856,"n":12},{"ra":201.341,"dec":-47.856,"n":14},{"ra":201.381,"dec":-47.856,"n":13},{"ra":201.420,"dec":-47.856,"n":28},{"ra":201.459,"dec":-47.856,"n":18},{"ra":201.498,"dec":-47.856,"n":22},{"ra":201.538,"dec":-47.856,"n":30},{"ra":201.577,"dec":-47.856,"n":22},{"ra":201.616,"dec":-47.856,"n":35},{"ra":201.655,"dec":-47.856,"n":32},{"ra":201.695,"dec":-47.856,"n":29},{"ra":201.734,"dec":-47.856,"n":35},{"ra":201.773,"dec":-47.856,"n":35},{"ra":201.813,"dec":-47.856,"n":38},{"ra":201.852,"dec":-47.856,"n":25},{"ra":201.891,"dec":-47.856,"n":35},{"ra":201.930,"dec":-47.856,"n":35},{"ra":201.970,"dec":-47.856,"n":24},{"ra":202.009,"dec":-47.856,"n":22},{"ra":202.048,"dec":-47.856,"n":18},{"ra":202.088,"dec":-47.856,"n":15},{"ra":202.127,"dec":-47.856,"n":20},
{"ra":201.322,"dec":-47.879,"n":11},{"ra":201.361,"dec":-47.879,"n":20},{"ra":201.400,"dec":-47.879,"n":22},{"ra":201.439,"dec":-47.879,"n":20},{"ra":201.479,"dec":-47.879,"n":18},{"ra":201.518,"dec":-47.879,"n":24},{"ra":201.557,"dec":-47.879,"n":24},{"ra":201.597,"dec":-47.879,"n":20},{"ra":201.636,"dec":-47.879,"n":24},{"ra":201.675,"dec":-47.879,"n":20},{"ra":201.714,"dec":-47.879,"n":22},{"ra":201.754,"dec":-47.879,"n":18},{"ra":201.793,"dec":-47.879,"n":25},{"ra":201.832,"dec":-47.879,"n":18},{"ra":201.872,"dec":-47.879,"n":14},{"ra":201.911,"dec":-47.879,"n":15},{"ra":201.950,"dec":-47.879,"n":18},{"ra":201.989,"dec":-47.879,"n":20},{"ra":202.029,"dec":-47.879,"n":13},{"ra":202.068,"dec":-47.879,"n":12},{"ra":202.107,"dec":-47.879,"n":20},{"ra":202.146,"dec":-47.879,"n":17},{"ra":202.186,"dec":-47.879,"n":11},
{"ra":201.223,"dec":-47.903,"n":12},{"ra":201.263,"dec":-47.903,"n":16},{"ra":201.420,"dec":-47.903,"n":17},{"ra":201.459,"dec":-47.903,"n":15},{"ra":201.498,"dec":-47.903,"n":18},{"ra":201.538,"dec":-47.903,"n":14},{"ra":201.577,"dec":-47.903,"n":16},{"ra":201.616,"dec":-47.903,"n":14},{"ra":201.655,"dec":-47.903,"n":17},{"ra":201.695,"dec":-47.903,"n":15},{"ra":201.734,"dec":-47.903,"n":14},{"ra":201.773,"dec":-47.903,"n":16},{"ra":201.813,"dec":-47.903,"n":24},{"ra":201.852,"dec":-47.903,"n":13},{"ra":201.891,"dec":-47.903,"n":13},{"ra":201.930,"dec":-47.903,"n":16},{"ra":201.970,"dec":-47.903,"n":15},{"ra":202.009,"dec":-47.903,"n":14},{"ra":202.048,"dec":-47.903,"n":15},{"ra":202.088,"dec":-47.903,"n":13},
{"ra":201.282,"dec":-47.926,"n":14},{"ra":201.361,"dec":-47.926,"n":17},{"ra":201.400,"dec":-47.926,"n":14},{"ra":201.439,"dec":-47.926,"n":17},{"ra":201.479,"dec":-47.926,"n":11},{"ra":201.518,"dec":-47.926,"n":15},{"ra":201.557,"dec":-47.926,"n":16},{"ra":201.597,"dec":-47.926,"n":15},{"ra":201.636,"dec":-47.926,"n":14},{"ra":201.675,"dec":-47.926,"n":17},{"ra":201.714,"dec":-47.926,"n":13},{"ra":201.754,"dec":-47.926,"n":15},{"ra":201.793,"dec":-47.926,"n":16},{"ra":201.832,"dec":-47.926,"n":14},{"ra":201.950,"dec":-47.926,"n":12},{"ra":202.107,"dec":-47.926,"n":11},
{"ra":201.420,"dec":-47.950,"n":13},{"ra":201.459,"dec":-47.950,"n":17},{"ra":201.498,"dec":-47.950,"n":14},{"ra":201.538,"dec":-47.950,"n":15},{"ra":201.616,"dec":-47.950,"n":15},{"ra":201.655,"dec":-47.950,"n":17},{"ra":201.695,"dec":-47.950,"n":15},{"ra":201.773,"dec":-47.950,"n":13},{"ra":201.813,"dec":-47.950,"n":12},{"ra":201.852,"dec":-47.950,"n":16},{"ra":201.891,"dec":-47.950,"n":17},{"ra":201.970,"dec":-47.950,"n":14},
{"ra":201.518,"dec":-47.974,"n":11},{"ra":201.675,"dec":-47.974,"n":15},{"ra":201.793,"dec":-47.974,"n":12},{"ra":201.872,"dec":-47.974,"n":11},{"ra":201.911,"dec":-47.974,"n":14}
]},"mark":{"type":"point","filled":true,"opacity":1,"size":240,"strokeWidth":1,"strokeOpacity":1,"fillOpacity":1,"shape":"M0.91,-0.5L0.91,0.5L0,1L-0.91,0.5L-0.91,-0.5L0,-1Z"},"encoding":{"x":{"field":"ra","type":"quantitative","title":"RA (deg)","scale":{"domain":[200.526,202.861],"nice":false,"zero":false},"axis":{"values":[201,201.5,202,202.5],"format":".1f","labelFontSize":27.5,"titleFontSize":31,"tickSize":9,"labelPadding":9,"titlePadding":14,"labelFlush":false}},"y":{"field":"dec","type":"quantitative","title":"DEC (deg)","scale":{"domain":[-48.243,-46.72],"nice":false,"zero":false},"axis":{"values":[-48.2,-48,-47.8,-47.6,-47.4,-47.2,-47,-46.8],"format":".1f","labelFontSize":27.5,"titleFontSize":31,"tickSize":9,"labelPadding":9,"titlePadding":20}},"fill":{"field":"n","type":"quantitative","scale":{"type":"log","domain":[10,495],"scheme":"plasma"},"legend":null},"stroke":{"field":"n","type":"quantitative","scale":{"type":"log","domain":[10,495],"scheme":"plasma"},"legend":null}}},{"data":{"values":[{"o":0,"ra":201.694,"dec":-46.974},{"o":1,"ra":201.880,"dec":-46.996},{"o":2,"ra":202.201,"dec":-47.116},{"o":3,"ra":202.306,"dec":-47.199},{"o":4,"ra":202.412,"dec":-47.410},{"o":5,"ra":202.412,"dec":-47.594},{"o":6,"ra":202.401,"dec":-47.629},{"o":7,"ra":202.259,"dec":-47.801},{"o":8,"ra":202.148,"dec":-47.876},{"o":9,"ra":202.047,"dec":-47.917},{"o":10,"ra":201.786,"dec":-47.959},{"o":11,"ra":201.685,"dec":-47.968},{"o":12,"ra":201.415,"dec":-47.935},{"o":13,"ra":201.228,"dec":-47.858},{"o":14,"ra":201.058,"dec":-47.724},{"o":15,"ra":200.997,"dec":-47.629},{"o":16,"ra":200.978,"dec":-47.483},{"o":17,"ra":200.978,"dec":-47.430},{"o":18,"ra":200.994,"dec":-47.314},{"o":19,"ra":201.036,"dec":-47.241},{"o":20,"ra":201.214,"dec":-47.091},{"o":21,"ra":201.465,"dec":-46.998},{"o":22,"ra":201.694,"dec":-46.974}]},"mark":{"type":"line","color":"black","strokeWidth":3},"encoding":{"x":{"field":"ra","type":"quantitative"},"y":{"field":"dec","type":"quantitative"},"order":{"field":"o","type":"quantitative"}}}]},{"width":37,"height":749,"data":{"values":[{"v":10,"w":495}]},"mark":{"type":"rect","stroke":"black","strokeWidth":1.2,"fill":{"x1":0,"y1":1,"x2":0,"y2":0,"gradient":"linear","stops":[{"offset":0,"color":"#0d0887"},{"offset":0.1,"color":"#41049d"},{"offset":0.2,"color":"#6a00a8"},{"offset":0.3,"color":"#8f0da4"},{"offset":0.4,"color":"#b12a90"},{"offset":0.5,"color":"#cc4778"},{"offset":0.6,"color":"#e16462"},{"offset":0.7,"color":"#f2844b"},{"offset":0.8,"color":"#fca636"},{"offset":0.9,"color":"#fcce25"},{"offset":1,"color":"#f0f921"}]}},"encoding":{"y":{"field":"v","type":"quantitative","title":"log10(Counts)","scale":{"type":"log","domain":[10,495],"nice":false,"zero":false},"axis":{"orient":"right","values":[10,20,30,40,50,60,70,80,90,100,200,300,400],"labelExpr":"datum.value==10?'10¹':datum.value==100?'10²':''","labelFontSize":24,"titleFontSize":29,"titleAngle":270,"titlePadding":38,"labelPadding":12,"labelOverlap":false,"labelBound":false,"tickSize":{"condition":{"test":"datum.value==10||datum.value==100","value":10},"value":6}}},"y2":{"field":"w"}}}]}
